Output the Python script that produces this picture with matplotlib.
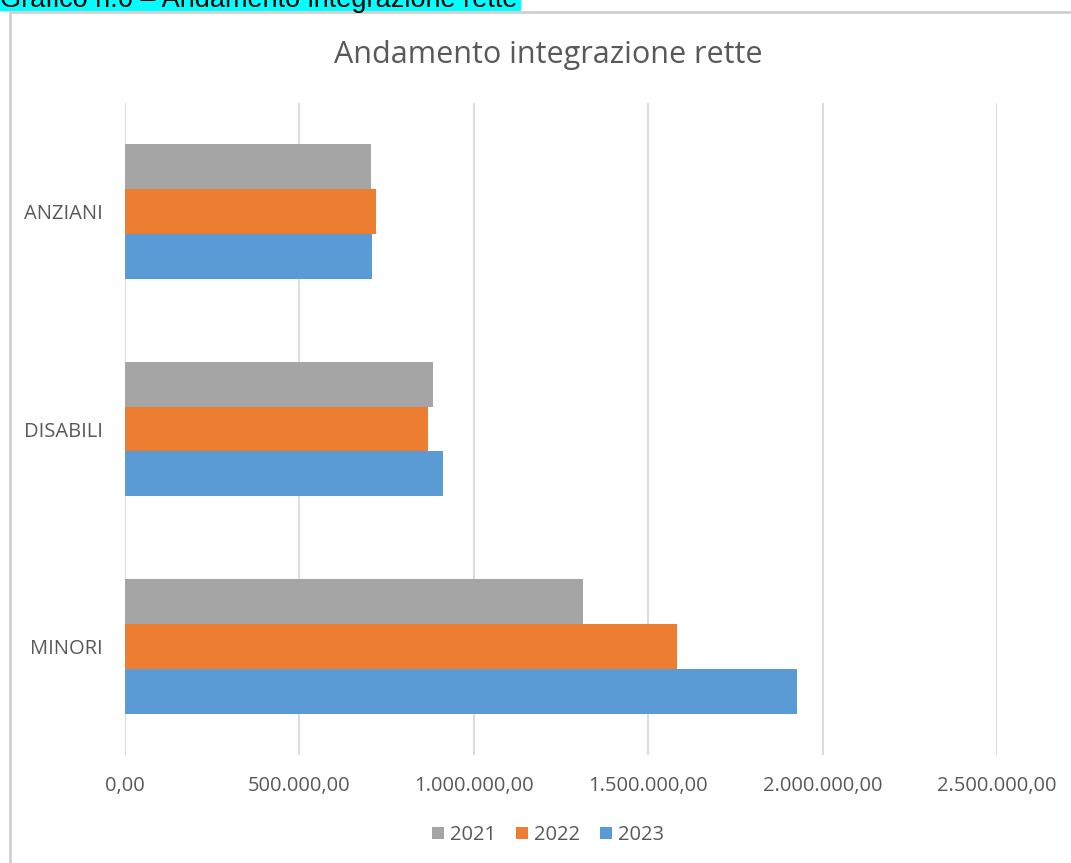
import matplotlib.pyplot as plt
from matplotlib.patches import Rectangle
from matplotlib.ticker import FuncFormatter
import numpy as np

plt.rcParams['font.family'] = ['Open Sans', 'DejaVu Sans']

categories = ["MINORI", "DISABILI", "ANZIANI"]
years = ["2021", "2022", "2023"]
values_2021 = [1312000, 882000, 705000]
values_2022 = [1584000, 868000, 719000]
values_2023 = [1928000, 911000, 708000]
colors = ['#a5a5a5', '#ed7d31', '#5b9bd5']

text_col = '#595959'

fig = plt.figure(figsize=(10.71, 8.63), dpi=100)

# caption strip above the chart, mostly cut off
fig.patches.append(Rectangle((0, 1 - 10 / 863), 520 / 1071, 10 / 863,
                             transform=fig.transFigure, color='#00ffff', zorder=0))
fig.text(0.0, 1 - 7 / 863, "Grafico n.6 \u2013 Andamento integrazione rette",
         fontsize=19.5, color='black', va='baseline', ha='left',
         family=['Liberation Sans', 'DejaVu Sans'])

# chart frame
fig.patches.append(Rectangle((10 / 1071, -0.05), 1.1, 1 - 12 / 863 + 0.05,
                             transform=fig.transFigure, fill=False,
                             edgecolor='#d0d0d0', linewidth=2))

ax = fig.add_axes([125 / 1071, 1 - 755 / 863, 872 / 1071, 652 / 863])

y = np.arange(len(categories))
h = 0.207
ax.barh(y + h, values_2021, height=h, color=colors[0], label=years[0], zorder=3)
ax.barh(y, values_2022, height=h, color=colors[1], label=years[1], zorder=3)
ax.barh(y - h, values_2023, height=h, color=colors[2], label=years[2], zorder=3)

ax.set_xlim(0, 2500000)
ax.set_ylim(-0.5, 2.5)
ax.set_xticks(np.arange(0, 2500001, 500000))
ax.xaxis.set_major_formatter(FuncFormatter(
    lambda v, p: f"{v:,.2f}".replace(",", "X").replace(".", ",").replace("X", ".")))
ax.set_yticks(y)
ax.set_yticklabels(categories)
ax.tick_params(axis='x', length=0, pad=15, labelsize=14.5, labelcolor=text_col)
ax.tick_params(axis='y', length=0, pad=16, labelsize=14.5, labelcolor=text_col)
ax.grid(axis='x', color='#d9d9d9', linewidth=1.3, zorder=0)
for s in ax.spines.values():
    s.set_visible(False)

fig.text(548 / 1071, 1 - 55 / 863, "Andamento integrazione rette",
         fontsize=22, color=text_col, ha='center', va='center')

fig.legend(loc='center', bbox_to_anchor=(548 / 1071, 1 - 835 / 863), ncol=3,
           frameon=False, fontsize=14.5, labelcolor=text_col,
           handlelength=0.6, handleheight=0.6, handletextpad=0.3, columnspacing=1.0)

fig.savefig('out.png', dpi=100)
